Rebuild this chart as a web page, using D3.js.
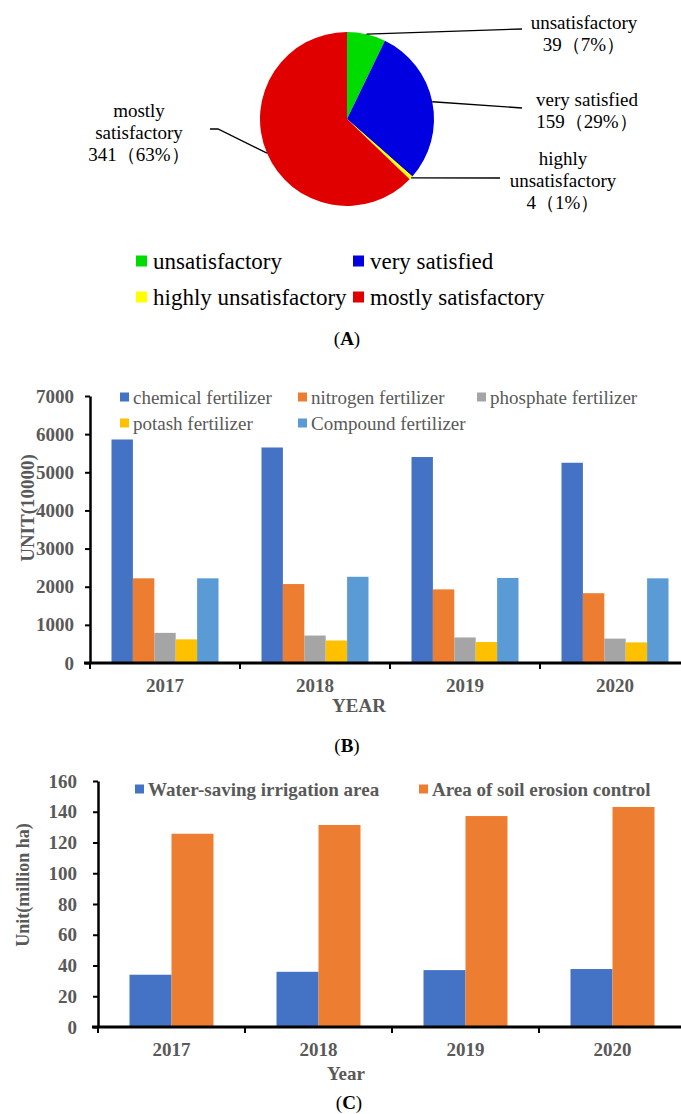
<!DOCTYPE html>
<html>
<head>
<meta charset="utf-8">
<script src="https://cdn.jsdelivr.net/npm/d3@7"></script>
<style>
  body { margin: 0; background: #fff; }
</style>
</head>
<body>
<div id="chart"></div>
<script>
// Panel A data
var pieNames    = ['unsatisfactory', 'very satisfied', 'highly unsatisfactory', 'mostly satisfactory'];
var pieCounts   = [39, 159, 4, 341];
var piePercents = ['7%', '29%', '1%', '63%'];
var pieColors   = ['#00dc00', '#0000e0', '#ffff00', '#e00000'];
var pieLabelLines = [
    ['unsatisfactory', '39（7%）'],
    ['very satisfied', '159（29%）'],
    ['highly', 'unsatisfactory', '4（1%）'],
    ['mostly', 'satisfactory', '341（63%）']
];

// Panel B data
var years       = ['2017', '2018', '2019', '2020'];
var fertNames   = ['chemical fertilizer', 'nitrogen fertilizer', 'phosphate fertilizer', 'potash fertilizer', 'Compound fertilizer'];
var chemical    = [5860, 5650, 5400, 5250];
var nitrogen    = [2220, 2070, 1930, 1830];
var phosphate   = [790, 720, 670, 640];
var potash      = [620, 590, 550, 540];
var compound    = [2220, 2260, 2230, 2220];
var fertColors  = ['#4472c4', '#ed7d31', '#a5a5a5', '#ffc000', '#5b9bd5'];
var bTicks      = [0, 1000, 2000, 3000, 4000, 5000, 6000, 7000];

// Panel C data
var areaNames   = ['Water-saving irrigation area', 'Area of soil erosion control'];
var waterSaving = [34.0, 35.9, 37.0, 37.7];
var erosion     = [125.7, 131.4, 137.2, 143.1];
var areaColors  = ['#4472c4', '#ed7d31'];
var cTicks      = [0, 20, 40, 60, 80, 100, 120, 140, 160];

var width = 681, height = 1114;
var grey = '#595959';
var serif = '"Liberation Serif", serif';

var svg = d3.select('#chart')
    .append('svg')
    .attr('width', width)
    .attr('height', height)
    .attr('font-family', serif);

// ---------- (A) pie ----------
var pie_cx = 347, pie_cy = 119, pie_r = 87;
var pieData = pieNames.map(function(n, i){ return { name: n, value: pieCounts[i], color: pieColors[i] }; });
var pie = d3.pie().sort(null).value(function(d){ return d.value; });
var arc = d3.arc().innerRadius(0).outerRadius(pie_r);
var arcs = pie(pieData);

var gPie = svg.append('g').attr('transform', 'translate(' + pie_cx + ',' + pie_cy + ')');
gPie.selectAll('path')
    .data(arcs)
    .enter()
    .append('path')
    .attr('d', arc)
    .attr('fill', function(d){ return d.data.color; });

// label positions (centre x, first line y) and leader-line elbows
var labelPos = [
    { x: 584, y: 22, line: [[522, 29]] },
    { x: 587, y: 99, line: [[522, 108]] },
    { x: 563, y: 158, line: [[500, 178]] },
    { x: 139, y: 110, line: [[218, 129], [210, 129]] }
];

arcs.forEach(function(a, i){
    var mid = (a.startAngle + a.endAngle) / 2;
    var start = [pie_cx + pie_r * Math.sin(mid), pie_cy - pie_r * Math.cos(mid)];
    var pts = [start].concat(labelPos[i].line);
    svg.append('path')
        .attr('d', d3.line()(pts))
        .attr('fill', 'none')
        .attr('stroke', '#000')
        .attr('stroke-width', 1.3);

    var t = svg.append('text')
        .attr('font-family', serif)
        .attr('text-anchor', 'middle')
        .attr('font-size', 19)
        .attr('fill', '#000');
    pieLabelLines[i].forEach(function(s, j){
        t.append('tspan')
            .attr('x', labelPos[i].x)
            .attr('y', labelPos[i].y + j * 22)
            .attr('dy', '0.35em')
            .text(s);
    });
});

// legend A
var legA = svg.append('g');
pieNames.forEach(function(n, i){
    var lx = (i % 2 === 0) ? 136 : 353;
    var ly = (i < 2) ? 261 : 297;
    legA.append('rect')
        .attr('x', lx).attr('y', ly - 5.5)
        .attr('width', 11).attr('height', 11)
        .attr('fill', pieColors[i]);
    legA.append('text')
        .attr('x', lx + 17).attr('y', ly)
        .attr('dy', '0.35em')
        .attr('font-family', serif)
        .attr('font-size', 23)
        .text(n);
});

function panelTag(x, y, letter){
    var t = svg.append('text')
        .attr('x', x).attr('y', y)
        .attr('dy', '0.35em')
        .attr('text-anchor', 'middle')
        .attr('font-family', serif)
        .attr('font-size', 19);
    t.append('tspan').text('(');
    t.append('tspan').attr('font-weight', 'bold').text(letter);
    t.append('tspan').text(')');
}
panelTag(347, 338, 'A');

// ---------- shared bar-chart helper ----------
function groupedBars(opt){
    var g = svg.append('g');

    var scale_y = d3.scaleLinear()
        .domain([0, opt.ticks[opt.ticks.length - 1]])
        .range([opt.y0, opt.y1]);

    var scale_x0 = d3.scaleBand()
        .domain(years)
        .range([opt.x0, opt.x0 + opt.band * years.length])
        .padding(0);

    var gap = (opt.band - opt.groupW) / 2;
    var scale_x1 = d3.scaleBand()
        .domain(opt.names)
        .range([gap, opt.band - gap])
        .padding(0);

    // bars
    years.forEach(function(yr, yi){
        g.selectAll(null)
            .data(opt.series.map(function(s, si){ return { name: opt.names[si], v: s[yi], c: opt.colors[si] }; }))
            .enter()
            .append('rect')
            .attr('x', function(d){ return scale_x0(yr) + scale_x1(d.name); })
            .attr('y', function(d){ return scale_y(d.v); })
            .attr('width', scale_x1.bandwidth())
            .attr('height', function(d){ return opt.y0 - scale_y(d.v); })
            .attr('fill', function(d){ return d.c; });
    });

    // y axis
    var axis_y = d3.axisLeft(scale_y)
        .tickValues(opt.ticks)
        .tickFormat(d3.format('d'))
        .tickSize(5)
        .tickSizeOuter(0)
        .tickPadding(opt.tickPad);
    var gy = g.append('g')
        .attr('transform', 'translate(' + opt.x0 + ',0)')
        .call(axis_y)
        .attr('font-family', serif);
    gy.select('.domain').attr('stroke', '#000').attr('stroke-width', 2.5);
    gy.selectAll('.tick line').attr('stroke', '#000').attr('stroke-width', 2);
    gy.selectAll('.tick text')
        .attr('font-size', 19)
        .attr('font-weight', 'bold')
        .attr('fill', grey);

    // x axis: labels at band centres, ticks at band edges
    var axis_x = d3.axisBottom(scale_x0).tickSize(0).tickPadding(opt.xPad);
    var gx = g.append('g')
        .attr('transform', 'translate(0,' + opt.y0 + ')')
        .call(axis_x)
        .attr('font-family', serif);
    gx.select('.domain').remove();
    gx.selectAll('.tick text')
        .attr('font-size', 19)
        .attr('font-weight', 'bold')
        .attr('fill', grey);
    g.selectAll(null)
        .data(years)
        .enter()
        .append('line')
        .attr('x1', function(d){ return scale_x0(d); })
        .attr('x2', function(d){ return scale_x0(d); })
        .attr('y1', opt.y0)
        .attr('y2', opt.y0 + 6)
        .attr('stroke', '#000')
        .attr('stroke-width', 2);
    g.append('line')
        .attr('x1', opt.x0 - 6).attr('x2', width)
        .attr('y1', opt.y0).attr('y2', opt.y0)
        .attr('stroke', '#000')
        .attr('stroke-width', 3);

    // axis titles
    g.append('text')
        .attr('x', opt.xTitle[0]).attr('y', opt.xTitle[1])
        .attr('dy', '0.35em')
        .attr('text-anchor', 'middle')
        .attr('font-family', serif)
        .attr('font-size', 19)
        .attr('font-weight', 'bold')
        .attr('fill', grey)
        .text(opt.xTitle[2]);
    g.append('text')
        .attr('transform', 'translate(' + opt.yTitle[0] + ',' + opt.yTitle[1] + ') rotate(-90)')
        .attr('dy', '0.35em')
        .attr('text-anchor', 'middle')
        .attr('font-family', serif)
        .attr('font-size', opt.yTitle[3])
        .attr('font-weight', 'bold')
        .attr('fill', grey)
        .text(opt.yTitle[2]);

    // legend
    opt.legend.forEach(function(p, i){
        g.append('rect')
            .attr('x', p[0]).attr('y', p[1] - 4.5)
            .attr('width', 9).attr('height', 9)
            .attr('fill', opt.colors[i]);
        g.append('text')
            .attr('x', p[0] + 13).attr('y', p[1])
            .attr('dy', '0.35em')
            .attr('font-family', serif)
            .attr('font-size', 19)
            .attr('font-weight', opt.legendBold ? 'bold' : 'normal')
            .attr('fill', grey)
            .text(opt.names[i]);
    });
}

// ---------- (B) fertilizer ----------
groupedBars({
    names: fertNames,
    series: [chemical, nitrogen, phosphate, potash, compound],
    colors: fertColors,
    ticks: bTicks,
    x0: 90, band: 150, groupW: 107,
    y0: 663, y1: 396,
    tickPad: 11, xPad: 16,
    xTitle: [359, 705, 'YEAR'],
    yTitle: [27, 508, 'UNIT(10000)', 19],
    legend: [[120, 397], [298, 397], [477, 397], [120, 423], [298, 423]],
    legendBold: false
});
panelTag(347, 745, 'B');

// ---------- (C) area ----------
groupedBars({
    names: areaNames,
    series: [waterSaving, erosion],
    colors: areaColors,
    ticks: cTicks,
    x0: 98, band: 147, groupW: 84,
    y0: 1027, y1: 781,
    tickPad: 16, xPad: 16,
    xTitle: [346, 1073, 'Year'],
    yTitle: [23, 885, 'Unit(million ha)', 18],
    legend: [[135, 789], [419, 789]],
    legendBold: true
});
panelTag(349, 1102, 'C');
</script>
</body>
</html>
